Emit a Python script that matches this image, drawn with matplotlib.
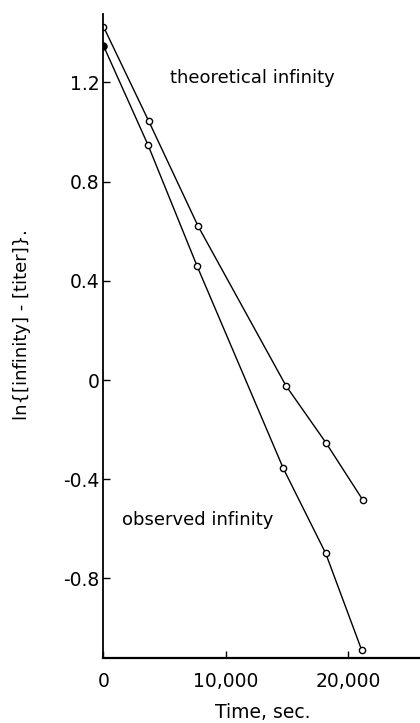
import matplotlib
matplotlib.use('Agg')
import matplotlib.pyplot as plt

# data
t_theo = [0, 3700, 7730, 14920, 18190, 21220]
y_theo = [1.425, 1.044, 0.621, -0.023, -0.253, -0.485]

t_obs = [0, 3640, 7650, 14700, 18170, 21110]
y_obs = [1.348, 0.948, 0.46, -0.356, -0.699, -1.089]

yticks = [1.2, 0.8, 0.4, 0, -0.4, -0.8]
ytick_labels = ['1.2', '0.8', '0.4', '0', '-0.4', '-0.8']
xticks = [0, 10000, 20000]
xtick_labels = ['0', '10,000', '20,000']

plt.rcParams['font.family'] = 'DejaVu Sans'
plt.rcParams['axes.unicode_minus'] = False

fig = plt.figure(figsize=(4.2, 7.23), dpi=100)
ax = fig.add_axes([0.2464, 0.0899, 0.7536, 0.8907])

mk = dict(marker='o', markersize=4.5, markerfacecolor='white', markeredgecolor='black',
          markeredgewidth=1.0, color='black', linewidth=1.0)
ax.plot(t_theo, y_theo, **mk)
ax.plot(t_obs, y_obs, **mk)
# first observed point is a filled dot
ax.plot(t_obs[0], y_obs[0], marker='o', markersize=5, color='black', linestyle='none')

ax.set_xlim(0, 25880)
ax.set_ylim(-1.121, 1.476)

for s in ['top', 'right']:
    ax.spines[s].set_visible(False)
ax.spines['left'].set_linewidth(1.3)
ax.spines['bottom'].set_linewidth(1.6)

ax.set_xticks(xticks)
ax.set_xticklabels(xtick_labels)
ax.set_yticks(yticks)
ax.set_yticklabels(ytick_labels)
ax.tick_params(axis='both', direction='in', length=5, width=1.0, labelsize=13.5)
ax.tick_params(axis='x', pad=10)
ax.tick_params(axis='y', pad=3)

ax.text(0.21, 0.9, 'theoretical infinity', transform=ax.transAxes, fontsize=13,
        va='center', ha='left')
ax.text(0.058, 0.215, 'observed infinity', transform=ax.transAxes, fontsize=13,
        va='center', ha='left')

fig.text(263 / 420, 1 - 713 / 723, 'Time, sec.', fontsize=13.5, ha='center', va='center')
fig.text(22 / 420, 1 - 325 / 723, 'ln{[infinity] - [titer]}.', fontsize=13, rotation=90,
         ha='center', va='center')

plt.savefig('out.png', dpi=100)
